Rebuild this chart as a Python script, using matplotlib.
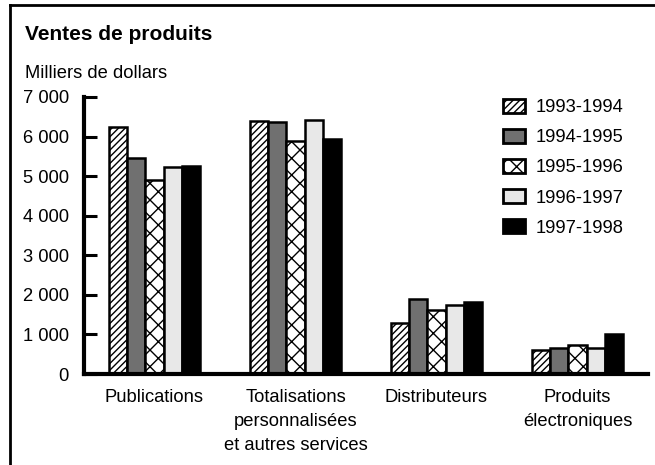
import matplotlib
matplotlib.use("Agg")
import matplotlib.pyplot as plt
import numpy as np
from matplotlib.lines import Line2D

plt.rcParams['font.family'] = ['Liberation Sans', 'DejaVu Sans']
plt.rcParams['hatch.linewidth'] = 1.0

categories = ["Publications", "Totalisations\npersonnalisées\net autres services",
              "Distributeurs", "Produits\nélectroniques"]
series_labels = ["1993-1994", "1994-1995", "1995-1996", "1996-1997", "1997-1998"]
v_1993_94 = [6250, 6400, 1290, 600]
v_1994_95 = [5470, 6370, 1890, 660]
v_1995_96 = [4910, 5890, 1610, 730]
v_1996_97 = [5240, 6420, 1740, 660]
v_1997_98 = [5260, 5940, 1810, 1000]
yticks = [0, 1000, 2000, 3000, 4000, 5000, 6000, 7000]
ytick_labels = ["0", "1 000", "2 000", "3 000", "4 000", "5 000", "6 000", "7 000"]

values = [v_1993_94, v_1994_95, v_1995_96, v_1996_97, v_1997_98]
faces = ["white", "#707070", "white", "#e8e8e8", "black"]
hatches = ["/////", None, "xx", None, None]

W, H = 655, 465
fig = plt.figure(figsize=(W / 100, H / 100), dpi=100)
ax = fig.add_axes([84 / W, (H - 374) / H, (648 - 84) / W, (374 - 97) / H])

x = np.arange(len(categories))
bw = 0.13
for i, (vals, fc, ht, lab) in enumerate(zip(values, faces, hatches, series_labels)):
    ax.bar(x + (i - 2) * bw, vals, width=bw, color=fc, edgecolor="black",
           linewidth=1.8, hatch=ht, label=lab, zorder=2)

FS = 13.2
ax.set_xlim(-0.5, len(categories) - 0.5)
ax.set_ylim(0, 7000)
ax.set_yticks(yticks)
ax.set_yticklabels(ytick_labels, fontsize=FS)
ax.set_xticks(x)
ax.set_xticklabels(categories, fontsize=FS, linespacing=1.52)
ax.tick_params(axis="y", direction="in", length=9, width=2.2, pad=11)
ax.tick_params(axis="x", length=0, pad=11)
for s in ["top", "right"]:
    ax.spines[s].set_visible(False)
ax.spines["left"].set_linewidth(3)
ax.spines["bottom"].set_linewidth(3)

leg = ax.legend(loc="upper left", bbox_to_anchor=(503 / W, (H - 99) / H),
                bbox_transform=fig.transFigure, frameon=False, fontsize=FS,
                handlelength=1.2, handleheight=0.78, handletextpad=0.6,
                labelspacing=0.7, borderpad=0, borderaxespad=0)
for p in leg.get_patches():
    p.set_linewidth(2)

fig.text(25 / W, 1 - 35 / H, "Ventes de produits", fontsize=15, fontweight="bold",
         va="center", ha="left")
fig.text(25 / W, 1 - 73 / H, "Milliers de dollars", fontsize=FS, va="center", ha="left")

# outer frame (top and left)
fig.add_artist(Line2D([10 / W, 10 / W], [0, 1 - 5 / H], transform=fig.transFigure,
                      color="black", linewidth=2))
fig.add_artist(Line2D([10 / W, 1], [1 - 5 / H, 1 - 5 / H], transform=fig.transFigure,
                      color="black", linewidth=2))

fig.savefig("out.png", dpi=100)
